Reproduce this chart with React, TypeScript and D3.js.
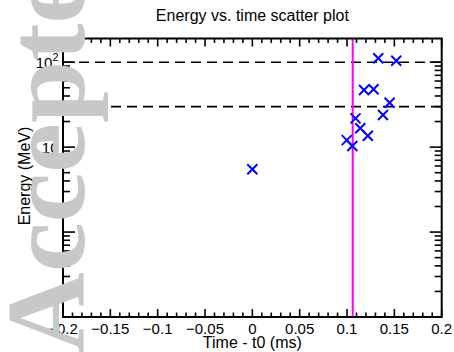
import React from "react";
import * as d3 from "d3";

const times = [0.133, 0.152, 0.118, 0.128, 0.145, 0.138, 0.109, 0.114, 0.122, 0.0997, 0.1056, 0.0];
const energies = [111, 104, 47, 48, 33.3, 23.9, 21.8, 16.7, 13.6, 12.1, 10.3, 5.5];
const refLines = [100, 30];
const vLine = 0.106;
const xTicks = [-0.2, -0.15, -0.1, -0.05, 0, 0.05, 0.1, 0.15, 0.2];
const xTickLabels = ["\u22120.2", "\u22120.15", "\u22120.1", "\u22120.05", "0", "0.05", "0.1", "0.15", "0.2"];
const yMajor = [1, 10, 100];
const yLabels = [
  { v: 100, base: "10", sup: "2" },
  { v: 10, base: "10", sup: "" },
];

const W = 454, H = 352;
const L = 63, R = 441.7, T = 38.5, B = 317;
const FONT = "'Liberation Sans', Arial, Helvetica, sans-serif";

export default function App() {
  const x = d3.scaleLinear().domain([-0.2, 0.2]).range([L, R]);
  const y = d3.scaleLog().domain([0.1, 190]).range([B, T]);

  const xMinor = d3.range(-20, 21).map((k) => k / 100).filter((v) => Math.round(v * 100) % 5 !== 0);
  const yMinor: number[] = [];
  [0.1, 1, 10, 100].forEach((d) => {
    for (let k = 2; k <= 9; k++) {
      const v = d * k;
      if (v < 190) yMinor.push(v);
    }
  });

  return (
    <svg width={W} height={H} style={{ position: "absolute", left: 0, top: 0, background: "#fff" }} fontFamily={FONT}>
      <rect x={0} y={0} width={W} height={H} fill="#fff" />
      <text x={(L + R) / 2} y={20.5} textAnchor="middle" fontSize={16} fill="#000">Energy vs. time scatter plot</text>

      {refLines.map((v) => (
        <line key={v} x1={L} x2={R} y1={y(v)} y2={y(v)} stroke="#000" strokeWidth={1.6} strokeDasharray="10,6" />
      ))}

      <line x1={x(vLine)} x2={x(vLine)} y1={T} y2={B} stroke="#ff00ff" strokeWidth={2} />

      {times.map((t, i) => {
        const cx = x(t), cy = y(energies[i]), s = 5;
        return (
          <g key={i} stroke="#0000ff" strokeWidth={2}>
            <line x1={cx - s} y1={cy - s} x2={cx + s} y2={cy + s} />
            <line x1={cx - s} y1={cy + s} x2={cx + s} y2={cy - s} />
          </g>
        );
      })}

      <g stroke="#000" strokeWidth={1.6}>
        {xTicks.map((v) => (
          <g key={"xm" + v}>
            <line x1={x(v)} x2={x(v)} y1={B} y2={B - 8} />
            <line x1={x(v)} x2={x(v)} y1={T} y2={T + 8} />
          </g>
        ))}
        {xMinor.map((v) => (
          <g key={"xn" + v}>
            <line x1={x(v)} x2={x(v)} y1={B} y2={B - 4.5} />
            <line x1={x(v)} x2={x(v)} y1={T} y2={T + 4.5} />
          </g>
        ))}
        {yMajor.map((v) => (
          <g key={"ym" + v}>
            <line x1={L} x2={L + 12} y1={y(v)} y2={y(v)} />
            <line x1={R} x2={R - 12} y1={y(v)} y2={y(v)} />
          </g>
        ))}
        {yMinor.map((v) => (
          <g key={"yn" + v}>
            <line x1={L} x2={L + 7} y1={y(v)} y2={y(v)} />
            <line x1={R} x2={R - 7} y1={y(v)} y2={y(v)} />
          </g>
        ))}
      </g>

      <rect x={L} y={T} width={R - L} height={B - T} fill="none" stroke="#000" strokeWidth={2} />

      {xTicks.map((v, i) => (
        <text key={"xl" + v} x={x(v)} y={333.5} textAnchor="middle" fontSize={15} fill="#000">{xTickLabels[i]}</text>
      ))}

      {yLabels.map((l) => (
        <text key={"yl" + l.v} x={58.5} y={y(l.v) + 5.5} textAnchor="end" fontSize={15} fill="#000">
          {l.base}
          {l.sup ? <tspan fontSize={11} dy={-7}>{l.sup}</tspan> : null}
        </text>
      ))}

      <text x={(L + R) / 2} y={347.5} textAnchor="middle" fontSize={16} fill="#000">Time - t0 (ms)</text>
      <text transform={`translate(30,176) rotate(-90)`} textAnchor="middle" fontSize={16} fill="#000">Energy (MeV)</text>

      <text transform={`translate(84,353) rotate(-90)`} fontFamily="'Liberation Serif', 'Times New Roman', serif" fontWeight="bold" fontSize={112} fill="#c8c8c8">Accepted</text>
    </svg>
  );
}
